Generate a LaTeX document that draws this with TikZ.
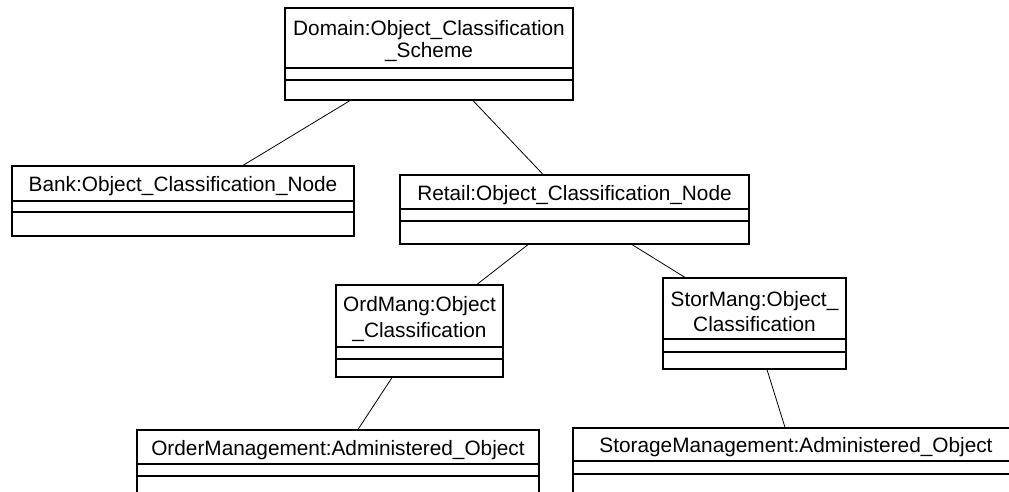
\documentclass[tikz,border=0pt]{standalone}
\usepackage{fontspec}
\setmainfont{Liberation Sans}
\usetikzlibrary{fit}

\tikzset{
  objframe/.style={draw, line width=0.9pt, inner sep=0pt},
  objname/.style={inner sep=0pt, align=center},
  objline/.style={line width=0.8pt},
  link/.style={line width=0.6pt},
}

% object box: name, left, right, top, first divider, second divider, bottom, label, baselineskip
\newcommand\objbox[9]{%
  \node[objframe, fit={(#2,#4) (#3,#7)}] (#1) {};
  \node[objname, font=\fontsize{15.6}{#9}\selectfont] (#1-name)
    at ({(#2+#3)/2},{(#4+#5)/2+3}) {#8};
  \draw[objline] (#1.west |- 0,#5) -- (#1.east |- 0,#5);
  \draw[objline] (#1.west |- 0,#6) -- (#1.east |- 0,#6);
}

\begin{document}
\begin{tikzpicture}[x=0.75pt, y=-0.75pt]
\useasboundingbox (0,0) rectangle (1009,492);
\clip (0,0) rectangle (1009,492);

\objbox{dom}{285}{573}{8}{68}{80}{100}{Domain:Object\_Classification\\\_Scheme}{16.5}
\objbox{bank}{12}{354}{166}{201}{212}{236}{Bank:Object\_Classification\_Node}{18}
\objbox{retail}{400}{749}{175}{209}{221}{244}{Retail:Object\_Classification\_Node}{18}
\objbox{ord}{336}{503}{285}{347}{359}{377}{OrdMang:Object\\\_Classification}{20}
\objbox{stor}{663}{846}{278}{339}{352}{369}{StorMang:Object\_\\Classification}{19}
\objbox{ordobj}{137}{539}{430}{464}{476}{520}{OrderManagement:Administered\_Object}{18}
\objbox{storobj}{573}{1019}{428}{461}{474}{520}{StorageManagement:Administered\_Object}{18}

\draw[link] (dom.south -| 350,0) -- (bank.north -| 243,0);
\draw[link] (dom.south -| 473,0) -- (retail.north -| 543,0);
\draw[link] (retail.south -| 528,0) -- (ord.north -| 477,0);
\draw[link] (retail.south -| 632,0) -- (stor.north -| 685,0);
\draw[link] (ord.south -| 392,0) -- (ordobj.north -| 358,0);
\draw[link] (stor.south -| 767,0) -- (storobj.north -| 785,0);
\end{tikzpicture}
\end{document}
